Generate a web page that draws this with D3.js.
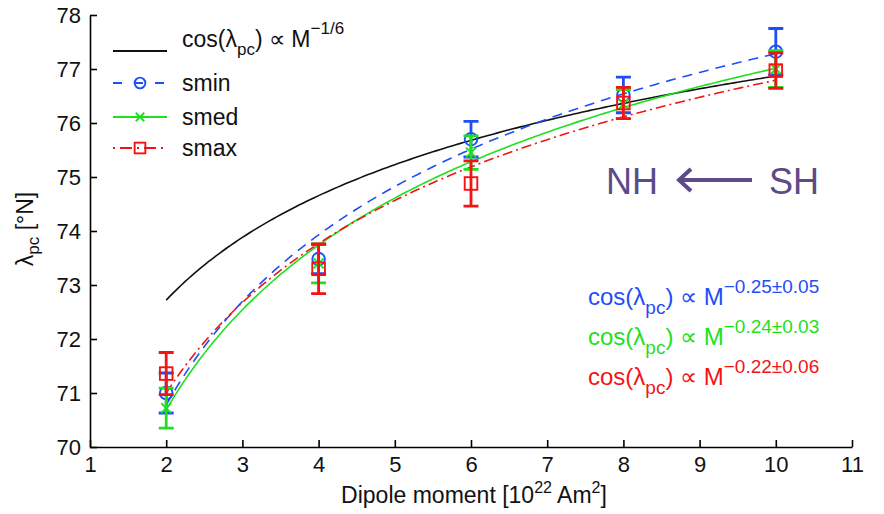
<!DOCTYPE html>
<html>
<head>
<meta charset="utf-8">
<script src="https://cdn.jsdelivr.net/npm/d3@7"></script>
<style>
  html, body { margin: 0; padding: 0; background: #fff; }
  svg { display: block; font-family: "Liberation Sans", Arial, Helvetica, sans-serif; }
</style>
</head>
<body>
<svg id="chart" width="884" height="514"></svg>
<script>
// Dipole moment (10^22 Am^2) at which each run was made
const dipole = [2, 4, 6, 8, 10];

// Polar cap boundary latitude (deg N) and half-range for each solar wind case
const sminVal = [71.0, 73.48, 75.7, 76.52, 77.32];
const sminErr = [0.37, 0.27, 0.33, 0.33, 0.43];
const smedVal = [70.72, 73.4, 75.45, 76.35, 77.0];
const smedErr = [0.37, 0.36, 0.31, 0.27, 0.34];
const smaxVal = [71.36, 73.3, 74.88, 76.37, 76.97];
const smaxErr = [0.39, 0.46, 0.42, 0.29, 0.33];

// Power-law fits cos(lambda) ∝ M^-p, anchored by the fitted latitude at M = 2
const fitNames = ["theory", "smin", "smed", "smax"];
const fitExp = [1 / 6, 0.25, 0.24, 0.22];
const fitLatAt2 = [72.72, 70.78, 70.69, 71.0];

// Axis ticks
const xTicks = [1, 2, 3, 4, 5, 6, 7, 8, 9, 10, 11];
const yTicks = [70, 71, 72, 73, 74, 75, 76, 77, 78];

const colors = { theory: "#111", smin: "#1f4ef5", smed: "#1fe01f", smax: "#f21414" };
const dashes = { theory: null, smin: "10,7", smed: null, smax: "10,4,2,4" };

const svg = d3.select("#chart");
const x = d3.scaleLinear().domain([1, 11]).range([90, 852]);
const y = d3.scaleLinear().domain([70, 78]).range([447, 15]);

// Axes (left and bottom only, ticks pointing inward)
const fontTick = 22;
const gx = svg.append("g").attr("transform", `translate(0,${y(70)})`)
  .call(d3.axisBottom(x).tickValues(xTicks).tickFormat(d3.format("d"))
    .tickSizeInner(-7).tickSizeOuter(0).tickPadding(9));
const gy = svg.append("g").attr("transform", `translate(${x(1)},0)`)
  .call(d3.axisLeft(y).tickValues(yTicks).tickFormat(d3.format("d"))
    .tickSizeInner(-7).tickSizeOuter(0).tickPadding(9));
[gx, gy].forEach(g => {
  g.select(".domain").attr("stroke", "#000").attr("stroke-width", 1.6);
  g.selectAll(".tick line").attr("stroke", "#000").attr("stroke-width", 1.6);
  g.selectAll(".tick text").attr("font-size", fontTick).attr("fill", "#111")
    .attr("font-family", "Liberation Sans, Arial, sans-serif");
});
gx.selectAll(".tick text").attr("dy", "0.72em");

// Axis titles
const xt = svg.append("text").attr("x", 474).attr("y", 503).attr("text-anchor", "middle")
  .attr("font-size", 23).attr("fill", "#111");
xt.append("tspan").text("Dipole moment [10");
xt.append("tspan").attr("font-size", 16).attr("dy", -10).text("22");
xt.append("tspan").attr("dy", 10).text(" Am");
xt.append("tspan").attr("font-size", 16).attr("dy", -10).text("2");
xt.append("tspan").attr("dy", 10).text("]");

const yt = svg.append("text").attr("transform", "translate(33,229) rotate(-90)")
  .attr("text-anchor", "middle").attr("font-size", 23).attr("fill", "#111");
yt.append("tspan").text("λ");
yt.append("tspan").attr("font-size", 17).attr("dy", 6).text("pc");
yt.append("tspan").attr("dy", -6).text(" [°N]");

// Fitted curves
const fitLine = d3.line().x(d => x(d[0])).y(d => y(d[1]));
function fitCurve(i) {
  const p = fitExp[i];
  const k = Math.cos(fitLatAt2[i] * Math.PI / 180) * Math.pow(2, p);
  return d3.range(2, 10.0001, 0.05).map(m => [m, Math.acos(k * Math.pow(m, -p)) * 180 / Math.PI]);
}
fitNames.forEach((name, i) => {
  svg.append("path").datum(fitCurve(i)).attr("d", fitLine)
    .attr("fill", "none").attr("stroke", colors[name]).attr("stroke-width", 1.6)
    .attr("stroke-dasharray", dashes[name]);
});

// Error bars and markers
const series = [
  { name: "smin", val: sminVal, err: sminErr, marker: "circle" },
  { name: "smed", val: smedVal, err: smedErr, marker: "cross" },
  { name: "smax", val: smaxVal, err: smaxErr, marker: "square" }
];
function drawMarker(g, type, cx, cy, color, small) {
  const f = small ? 0.85 : 1;
  if (type === "circle") {
    g.append("circle").attr("cx", cx).attr("cy", cy).attr("r", 6.3 * f)
      .attr("fill", "none").attr("stroke", color).attr("stroke-width", 1.9);
  } else if (type === "square") {
    const h = 6.3 * f;
    g.append("rect").attr("x", cx - h).attr("y", cy - h).attr("width", 2 * h).attr("height", 2 * h)
      .attr("fill", "none").attr("stroke", color).attr("stroke-width", 1.9);
  } else {
    const s = 5 * f;
    g.append("path").attr("d", `M${cx - s},${cy - s}L${cx + s},${cy + s}M${cx - s},${cy + s}L${cx + s},${cy - s}`)
      .attr("stroke", color).attr("stroke-width", 1.9);
  }
}
series.forEach(s => {
  const g = svg.append("g");
  const c = colors[s.name];
  dipole.forEach((m, i) => {
    const cx = x(m), y1 = y(s.val[i] + s.err[i]), y0 = y(s.val[i] - s.err[i]);
    g.append("path")
      .attr("d", `M${cx},${y1}L${cx},${y0}M${cx - 7.5},${y1}L${cx + 7.5},${y1}M${cx - 7.5},${y0}L${cx + 7.5},${y0}`)
      .attr("stroke", c).attr("stroke-width", 2.8).attr("fill", "none");
    drawMarker(g, s.marker, cx, y(s.val[i]), c, false);
  });
});

// Legend
const legend = svg.append("g");
const legendRows = [
  { name: "theory", yy: 51 },
  { name: "smin", yy: 83, marker: "circle" },
  { name: "smed", yy: 117, marker: "cross" },
  { name: "smax", yy: 148, marker: "square" }
];
legendRows.forEach(r => {
  legend.append("line").attr("x1", 113).attr("x2", 167).attr("y1", r.yy).attr("y2", r.yy)
    .attr("stroke", colors[r.name]).attr("stroke-width", r.name === "theory" ? 2 : 1.8)
    .attr("stroke-dasharray", r.name === "smin" ? "9,12" : r.name === "smax" ? "2,5,12,5" : null);
  if (r.marker) drawMarker(legend, r.marker, 140, r.yy, colors[r.name], true);
});
const lt = legend.append("text").attr("x", 182).attr("y", 47).attr("font-size", 23).attr("fill", "#111");
lt.append("tspan").text("cos(λ");
lt.append("tspan").attr("font-size", 17).attr("dy", 8).text("pc");
lt.append("tspan").attr("dy", -8).text(") ∝ M");
lt.append("tspan").attr("font-size", 17).attr("dy", -13).text("−1/6");
["smin", "smed", "smax"].forEach((n, i) => {
  legend.append("text").attr("x", 182).attr("y", [83, 117, 148][i] + 8)
    .attr("font-size", 23).attr("fill", "#111").text(n);
});

// Fitted exponents with their uncertainties
const eqExp = ["0.25", "0.24", "0.22"];
const eqErr = ["0.05", "0.03", "0.06"];
const eqBase = [305, 345, 385];
["smin", "smed", "smax"].forEach((n, i) => {
  const t = svg.append("text").attr("x", 588).attr("y", eqBase[i]).attr("font-size", 24)
    .attr("fill", colors[n]);
  t.append("tspan").text("cos(λ");
  t.append("tspan").attr("font-size", 19).attr("dy", 9).text("pc");
  t.append("tspan").attr("dy", -9).text(") ∝ M");
  t.append("tspan").attr("font-size", 19).attr("dy", -12).text(`−${eqExp[i]}±${eqErr[i]}`);
});

// Hemisphere annotation
const purple = "#5d4a88";
svg.append("text").attr("x", 606).attr("y", 194).attr("font-size", 36).attr("fill", purple).text("NH");
svg.append("text").attr("x", 769).attr("y", 194).attr("font-size", 36).attr("fill", purple).text("SH");
svg.append("path").attr("d", "M752,180L679,180M691,169L679,180L691,191")
  .attr("stroke", purple).attr("stroke-width", 4).attr("fill", "none");
</script>
</body>
</html>
